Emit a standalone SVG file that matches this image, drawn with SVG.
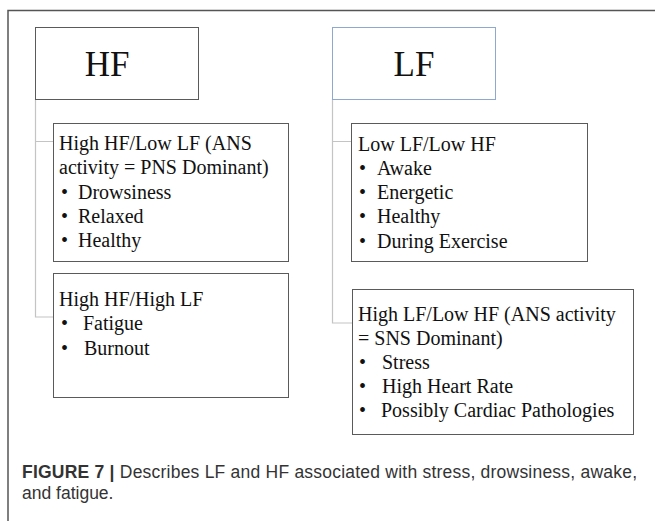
<svg xmlns="http://www.w3.org/2000/svg" width="655" height="521" viewBox="0 0 655 521">
  <style>
    .frame { fill: none; stroke: #555; stroke-width: 1.5; }
    .box { fill: #fff; stroke: #5a5a5a; stroke-width: 1; }
    .box-blue { fill: #fff; stroke: #8fa8cf; stroke-width: 1; }
    .link { fill: none; stroke: #c4c4c4; stroke-width: 1.2; }
    .title { font-family: "Liberation Serif", "Times New Roman", serif; font-size: 35px; fill: #111; text-anchor: middle; }
    .t { font-family: "Liberation Serif", "Times New Roman", serif; font-size: 20px; fill: #111; }
    .cap { font-family: "Liberation Sans", Arial, sans-serif; font-size: 17.5px; fill: #333; }
    .capb { font-weight: bold; }
  </style>

  <rect width="655" height="521" fill="#fff"/>
  <path class="frame" d="M8,521 V10.5 H655"/>

  <g id="connectors">
    <path class="link" d="M35.5,99 V317 H53 M35.5,141.5 H53"/>
    <path class="link" d="M332.5,99 V323 H352 M332.5,141.5 H351"/>
  </g>

  <g id="hf">
    <rect class="box" x="35.5" y="27.5" width="163" height="72"/>
    <text class="title" x="107" y="76">HF</text>
  </g>

  <g id="lf">
    <rect class="box-blue" x="332.5" y="27.5" width="163" height="72"/>
    <text class="title" x="414" y="76">LF</text>
  </g>

  <g id="hf-low-lf">
    <rect class="box" x="53.5" y="123.5" width="235" height="138"/>
    <text class="t" x="59" y="150">High HF/Low LF (ANS</text>
    <text class="t" x="59" y="174">activity = PNS Dominant)</text>
    <text class="t" x="61" y="199">•</text><text class="t" x="78" y="199">Drowsiness</text>
    <text class="t" x="61" y="223">•</text><text class="t" x="78" y="223">Relaxed</text>
    <text class="t" x="61" y="247">•</text><text class="t" x="78" y="247">Healthy</text>
  </g>

  <g id="hf-high-lf">
    <rect class="box" x="53.5" y="273.5" width="235" height="124"/>
    <text class="t" x="59" y="306">High HF/High LF</text>
    <text class="t" x="61" y="330">•</text><text class="t" x="83" y="330">Fatigue</text>
    <text class="t" x="61" y="355">•</text><text class="t" x="84" y="355">Burnout</text>
  </g>

  <g id="lf-low-hf-low">
    <rect class="box" x="351.5" y="123.5" width="236" height="138"/>
    <text class="t" x="358" y="151">Low LF/Low HF</text>
    <text class="t" x="359" y="175">•</text><text class="t" x="377" y="175">Awake</text>
    <text class="t" x="359" y="199">•</text><text class="t" x="377" y="199">Energetic</text>
    <text class="t" x="359" y="223">•</text><text class="t" x="377" y="223">Healthy</text>
    <text class="t" x="359" y="248">•</text><text class="t" x="377" y="248">During Exercise</text>
  </g>

  <g id="lf-high-hf-low">
    <rect class="box" x="352.5" y="289.5" width="281" height="145"/>
    <text class="t" x="358" y="321">High LF/Low HF (ANS activity</text>
    <text class="t" x="358" y="345">= SNS Dominant)</text>
    <text class="t" x="359" y="369">•</text><text class="t" x="382" y="369">Stress</text>
    <text class="t" x="359" y="393">•</text><text class="t" x="382" y="393">High Heart Rate</text>
    <text class="t" x="359" y="417">•</text><text class="t" x="381" y="417">Possibly Cardiac Pathologies</text>
  </g>

  <g id="caption">
    <text class="cap" x="22" y="478" textLength="615" lengthAdjust="spacing"><tspan class="capb">FIGURE 7 |</tspan> Describes LF and HF associated with stress, drowsiness, awake,</text>
    <text class="cap" x="22" y="499">and fatigue.</text>
  </g>
</svg>
